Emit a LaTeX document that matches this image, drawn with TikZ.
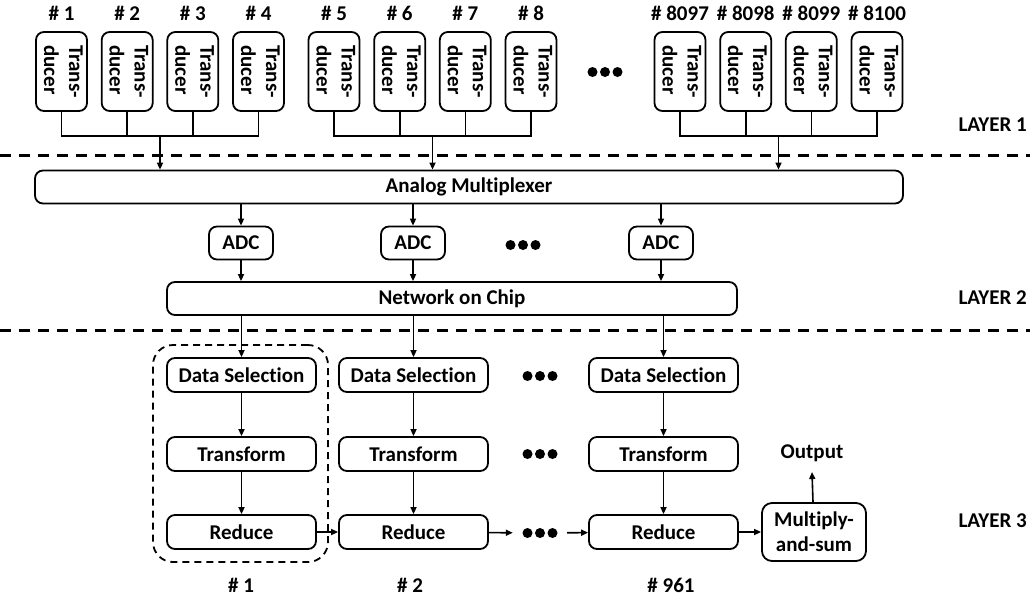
\documentclass[tikz,border=0pt]{standalone}
\usepackage{fontspec}
\setmainfont{Carlito}[Ligatures=NoCommon]
\usetikzlibrary{arrows.meta,calc}
\begin{document}
\begin{tikzpicture}[x=1pt,y=-1pt,
  base/.style={font=\bfseries\fontsize{21}{25}\selectfont, inner sep=0pt},
  box/.style={base, draw, line width=1.8pt, rounded corners=8pt, align=center},
  tbox/.style={box, minimum width=51pt, minimum height=79pt},
  wide/.style={box, minimum height=33pt},
  adcbox/.style={box, minimum width=64pt, minimum height=33pt},
  colbox/.style={box, minimum width=149pt, minimum height=34pt},
  wire/.style={line width=1.6pt},
  arr/.style={wire, -{Triangle[length=7pt,width=6pt]}},
  sep/.style={line width=3pt, dash pattern=on 11pt off 8pt},
  grpbox/.style={draw, line width=1.8pt, dash pattern=on 7pt off 5pt, rounded corners=20pt, inner sep=0pt},
  threedots/.style={inner sep=0pt, minimum height=10pt,
    path picture={\foreach \d in {-12.5,0,12.5}
      \fill ([xshift=\d pt]path picture bounding box.center) circle (5pt);}}
]
\useasboundingbox (0,0) rectangle (1030,598);

% layer separators
\coordinate (s1l) at (0,155);   \coordinate (s1r) at (1030,155);
\coordinate (s2l) at (0,330);   \coordinate (s2r) at (1030,330);
\draw[sep] (s1l) -- (s1r);
\draw[sep] (s2l) -- (s2r);

% transducers with their numbers
\foreach \i/\x/\lab in {1/61.5/1, 2/127.2/2, 3/192.8/3, 4/258.5/4,
                        5/334/5, 6/399.7/6, 7/465.3/7, 8/531/8,
                        9/680/8097, 10/745.7/8098, 11/811.3/8099, 12/877/8100} {
  \node[tbox] (t\i) at (\x,71.5)
    {\rotatebox{-90}{\begin{tabular}{@{}l@{}}Trans-\\ducer\end{tabular}}};
  \node[base] (n\i) at (\x,13) {\# \lab};
}
\node[base, threedots, minimum width=36pt] (tdots) at (605,72) {};

% layer 1 multiplexer and ADCs
\node[wide, minimum width=868pt] (mux) at (469,187) {Analog Multiplexer};
\node[adcbox] (adc1) at (241,243) {ADC};
\node[adcbox] (adc2) at (413,243) {ADC};
\node[adcbox] (adc3) at (661,243) {ADC};
\node[base, threedots, minimum width=36pt] (adots) at (523,245) {};
\node[wide, minimum width=570pt] (noc) at (452,298.5) {Network on Chip};

% transducer buses
\foreach \a/\b/\c/\d/\g in {1/2/3/4/1, 5/6/7/8/2, 9/10/11/12/3} {
  \draw[wire] (t\a.south) -- ++(0,24) -| (t\d.south);
  \draw[wire] (t\b.south) -- ++(0,24);
  \draw[wire] (t\c.south) -- ++(0,24);
  \coordinate (bus\g) at ($(t\a.south)!0.5!(t\d.south) + (0,24)$);
  \draw[arr] (bus\g) -- (bus\g |- mux.north);
}

\foreach \k in {1,2,3} {
  \draw[arr] (adc\k.north |- mux.south) -- (adc\k.north);
  \draw[arr] (adc\k.south) -- (adc\k.south |- noc.north);
}

% layer 3 processing columns
\node[grpbox, minimum width=175pt, minimum height=217pt] (grp) at (240.5,453.5) {};
\foreach \k/\x in {1/241.5, 2/413.5, 3/663.5} {
  \node[colbox] (ds\k) at (\x,375) {Data Selection};
  \node[colbox] (tf\k) at (\x,454) {Transform};
  \node[colbox] (rd\k) at (\x,532) {Reduce};
  \draw[arr] (ds\k.north |- noc.south) -- (ds\k.north);
  \draw[arr] (ds\k) -- (tf\k);
  \draw[arr] (tf\k) -- (rd\k);
}
\node[base, threedots, minimum width=36pt] (ddots) at (540,376) {};
\node[base, threedots, minimum width=36pt] (fdots) at (540,454) {};
\node[base, threedots, minimum width=54pt] (rdots) at (540,533) {};

\node[box, minimum width=104pt, minimum height=58pt, rounded corners=10pt] (mult) at (814,532) {Multiply-\\and-sum};
\node[base] (out) at (812,453) {Output};

\draw[arr] (rd1) -- (rd2);
\draw[arr] (rd2) -- (rdots);
\draw[arr] (rdots) -- (rd3);
\draw[arr] (rd3) -- (mult);
\draw[arr] (mult) -- (out.south |- 0,472);

% column numbers
\node[base] (c1) at (241,585) {\# 1};
\node[base] (c2) at (410,585) {\# 2};
\node[base] (c3) at (671,585) {\# 961};

% layer names
\node[base, anchor=east] (L1) at (1027,125) {LAYER 1};
\node[base, anchor=east] (L2) at (1027,298) {LAYER 2};
\node[base, anchor=east] (L3) at (1027,521) {LAYER 3};
\end{tikzpicture}
\end{document}
